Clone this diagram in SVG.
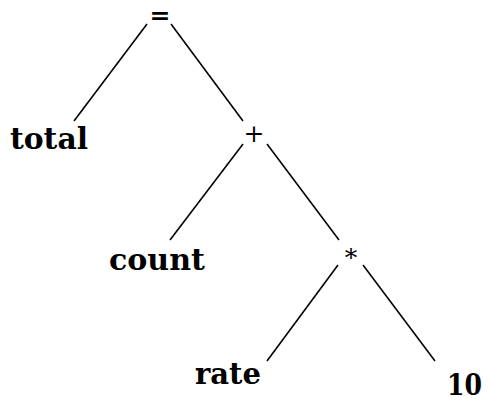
<svg xmlns="http://www.w3.org/2000/svg" width="488" height="402" viewBox="0 0 488 402">
<style>
.lbl{font-family:"DejaVu Serif","Liberation Serif",serif;font-weight:bold;font-size:30px;fill:#000}
.op{font-family:"DejaVu Serif","Liberation Serif",serif;font-size:25px;fill:#000;text-anchor:middle}
.edge{stroke:#000;stroke-width:1.6;fill:none}
</style>
<rect width="488" height="402" fill="#fff"/>
<g id="connectors">
<line class="edge" x1="147" y1="24" x2="74" y2="121"/>
<line class="edge" x1="171" y1="24" x2="243" y2="121"/>
<line class="edge" x1="243" y1="144" x2="170" y2="240"/>
<line class="edge" x1="267" y1="144" x2="339" y2="240"/>
<line class="edge" x1="338" y1="265" x2="267" y2="361"/>
<line class="edge" x1="363" y1="265" x2="435" y2="361"/>
</g>
<g id="n-eq"><text class="op" x="160" y="24" font-weight="bold">=</text></g>
<g id="n-total"><text class="lbl" x="10" y="149" textLength="78" lengthAdjust="spacingAndGlyphs">total</text></g>
<g id="n-plus"><text class="op" x="254" y="142">+</text></g>
<g id="n-count"><text class="lbl" x="109" y="270" textLength="96" lengthAdjust="spacingAndGlyphs">count</text></g>
<g id="n-star"><text class="op" x="351" y="266">*</text></g>
<g id="n-rate"><text class="lbl" x="195" y="384" textLength="66" lengthAdjust="spacingAndGlyphs">rate</text></g>
<g id="n-10"><text class="lbl" x="447" y="395" font-size="28" textLength="35" lengthAdjust="spacingAndGlyphs">10</text></g>
</svg>
